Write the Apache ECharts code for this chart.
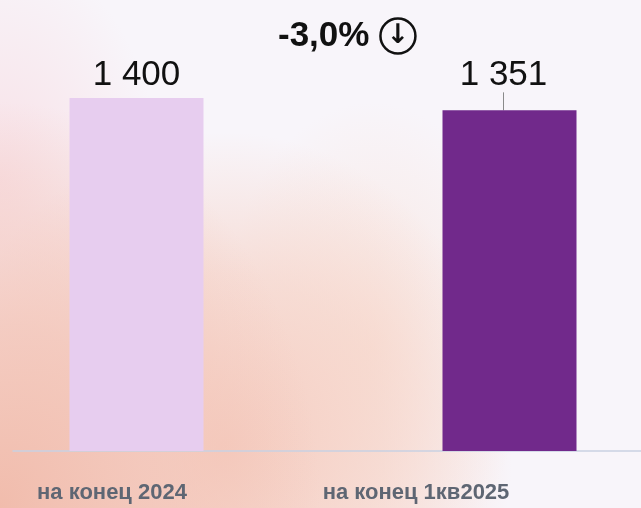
<!DOCTYPE html>
<html>
<head>
<meta charset="utf-8">
<script src="https://cdn.jsdelivr.net/npm/echarts@6/dist/echarts.min.js"></script>
<style>
html,body{margin:0;padding:0;}
body{width:641px;height:508px;overflow:hidden;
background:
 radial-gradient(ellipse 50% 80% at 0% 100%, rgba(241,188,172,1) 0%, rgba(243,197,184,0.8) 45%, rgba(243,199,186,0) 100%),
 radial-gradient(ellipse 45% 62% at 35% 88%, rgba(245,203,190,1) 0%, rgba(246,210,198,0.65) 55%, rgba(246,212,200,0) 100%),
 radial-gradient(ellipse 25% 45% at 0% 35%, rgba(248,222,228,0.9) 0%, rgba(248,222,228,0) 100%),
 radial-gradient(ellipse 24% 48% at 58% 68%, rgba(249,228,220,0.9) 0%, rgba(249,230,222,0) 100%),
 #F8F5FA;}
#chart{width:641px;height:508px;}
</style>
</head>
<body>
<div id="chart"></div>
<script>
const categories = ['на конец 2024', 'на конец 1кв2025'];
const values = [1400, 1351];
const barColors = ['#E7CDEF', '#71298B'];
const changeText = '-3,0%';

const chart = echarts.init(document.getElementById('chart'), null, {renderer: 'canvas'});
const option = {
  backgroundColor: 'transparent',
  animation: false,
  title: {
    text: '{a|' + changeText + '}{g| }{b|↓}',
    left: 273,
    top: 11,
    textStyle: {
      rich: {
        a: {fontFamily: 'Liberation Sans, Arial, sans-serif', fontWeight: 'bold', fontSize: 35, color: '#111', lineHeight: 40},
        g: {width: 11, fontSize: 10},
        b: {fontFamily: 'DejaVu Sans, sans-serif', fontSize: 27, color: '#111', width: 35, height: 35, lineHeight: 35,
            align: 'center', borderColor: '#111', borderWidth: 2.5, borderRadius: 20}
      }
    }
  },
  grid: [
    {left: -50, width: 746, top: 98, bottom: 57, outerBoundsMode: 'none', containLabel: false},
    {left: 13, right: 0, top: 98, bottom: 57, outerBoundsMode: 'none', containLabel: false},
    {left: -40, width: 608, top: 98, bottom: 57, outerBoundsMode: 'none', containLabel: false}
  ],
  xAxis: [
    {type: 'category', gridIndex: 0, data: categories, axisLine: {show: false}, axisTick: {show: false}, axisLabel: {show: false}},
    {type: 'category', gridIndex: 1, data: categories, axisLine: {show: true, lineStyle: {color: '#C9D1E2', width: 1.5}}, axisTick: {show: false}, axisLabel: {show: false}},
    {type: 'category', gridIndex: 2, data: categories, axisLine: {show: false}, axisTick: {show: false},
     axisLabel: {show: true, margin: 31, fontFamily: 'Liberation Sans, Arial, sans-serif', fontWeight: 'bold', fontSize: 22, color: '#5E6673'}}
  ],
  yAxis: [
    {type: 'value', gridIndex: 0, min: 0, max: 1400, show: false},
    {type: 'value', gridIndex: 1, min: 0, max: 1400, show: false},
    {type: 'value', gridIndex: 2, min: 0, max: 1400, show: false}
  ],
  series: [{
    type: 'bar',
    xAxisIndex: 0, yAxisIndex: 0,
    barWidth: 134,
    data: values.map((v, i) => ({value: v, itemStyle: {color: barColors[i]}, labelLine: {show: i === 1}})),
    label: {
      show: true, position: 'top', distance: 5,
      fontFamily: 'Liberation Sans, Arial, sans-serif', fontSize: 35, color: '#111',
      formatter: p => String(p.value).replace(/\B(?=(\d{3})+(?!\d))/g, ' ')
    },
    labelLayout: function (params) {
      if (params.dataIndex === 1) return {dx: -6, dy: -13};
      return {};
    },
    labelLine: {show: true, lineStyle: {color: '#8a8a8a', width: 1}}
  }]
};
chart.setOption(option);
</script>
</body>
</html>
